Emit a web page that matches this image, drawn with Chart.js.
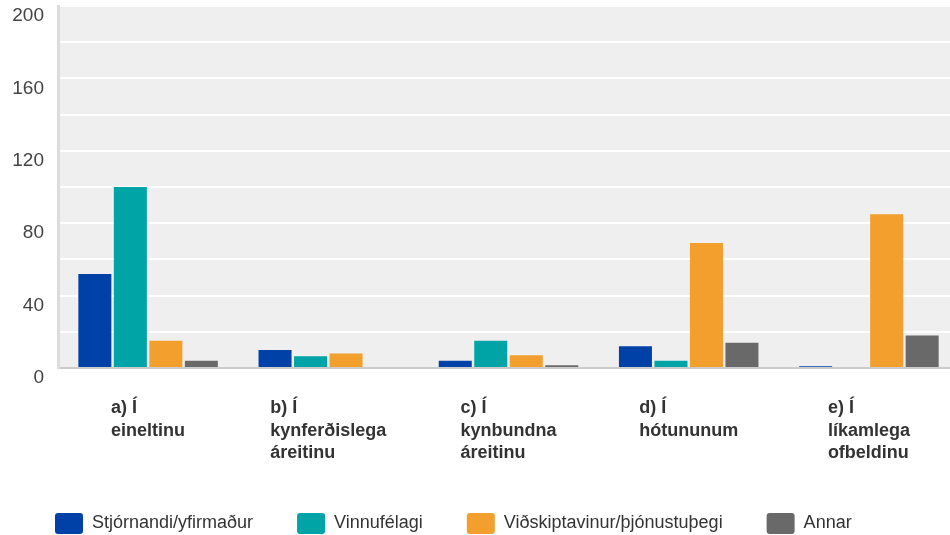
<!DOCTYPE html>
<html>
<head>
<meta charset="utf-8">
<script src="https://cdn.jsdelivr.net/npm/chart.js@4/dist/chart.umd.min.js"></script>
<style>
  html, body { margin: 0; padding: 0; background: #fff; overflow: hidden; }
  #wrap { width: 970px; height: 544px; }
</style>
</head>
<body>
<div id="wrap"><canvas id="chart"></canvas></div>
<script>
const categories = [
  ["a) Í", "eineltinu"],
  ["b) Í", "kynferðislega", "áreitinu"],
  ["c) Í", "kynbundna", "áreitinu"],
  ["d) Í", "hótununum"],
  ["e) Í", "líkamlega", "ofbeldinu"],
];
const seriesNames = ["Stjórnandi/yfirmaður", "Vinnufélagi", "Viðskiptavinur/þjónustuþegi", "Annar"];
const stjornandi = [52, 10, 4, 12, 1];
const vinnufelagi = [100, 6.5, 15, 4, 0];
const vidskiptavinur = [15, 8, 7, 69, 85];
const annar = [4, 0, 1.5, 14, 18];
const yTicks = [0, 40, 80, 120, 160, 200];

const colors = ["#0041a8", "#00a3a6", "#f29f2d", "#696969"];
const seriesValues = [stjornandi, vinnufelagi, vidskiptavinur, annar];

// grey plot background
const plotBg = {
  id: "plotBg",
  beforeDraw(chart) {
    const { ctx, chartArea: a } = chart;
    ctx.save();
    ctx.fillStyle = "#efefef";
    ctx.fillRect(a.left, a.top, a.right - a.left, a.bottom - a.top);
    ctx.restore();
  },
};

// multi-line category labels: block centred, lines left aligned
const catLabels = {
  id: "catLabels",
  afterDraw(chart) {
    const { ctx, chartArea } = chart;
    const x = chart.scales.x;
    ctx.save();
    ctx.font = "bold 18px Arial";
    ctx.fillStyle = "#333";
    ctx.textAlign = "left";
    ctx.textBaseline = "alphabetic";
    categories.forEach((lines, i) => {
      const w = Math.max(...lines.map((l) => ctx.measureText(l).width));
      const left = x.getPixelForValue(i) - w / 2;
      lines.forEach((line, j) => {
        ctx.fillText(line, left, chartArea.bottom + 45 + j * 22.5);
      });
    });
    ctx.restore();
  },
};

new Chart(document.getElementById("chart"), {
  type: "bar",
  data: {
    labels: categories.map((c) => c.join(" ")),
    datasets: seriesNames.map((name, i) => ({
      label: name,
      data: seriesValues[i],
      backgroundColor: colors[i],
      borderWidth: 0,
      categoryPercentage: 0.788,
      barPercentage: 0.93,
    })),
  },
  options: {
    responsive: true,
    maintainAspectRatio: false,
    animation: false,
    layout: { padding: { left: 11, right: 11, top: 6, bottom: 0 } },
    scales: {
      x: {
        grid: { display: false },
        border: { display: true, color: "#cccccc", width: 2 },
        ticks: { display: false },
        afterFit(scale) {
          scale.height = 101;
        },
      },
      y: {
        min: 0,
        max: 200,
        grid: { color: "#ffffff", lineWidth: 2, drawTicks: false },
        border: { display: true, color: "#dcdcdc", width: 3 },
        ticks: {
          stepSize: 20,
          padding: 14,
          labelOffset: 10,
          color: "#444",
          font: { family: "Arial", size: 19 },
          callback: (v) => (yTicks.includes(v) ? v : ""),
        },
        afterFit(scale) {
          scale.width = 47;
          scale.paddingTop = 0;
          scale.paddingBottom = 0;
        },
      },
    },
    plugins: {
      legend: {
        position: "bottom",
        align: "start",
        labels: {
          boxWidth: 28,
          boxHeight: 21,
          padding: 44,
          color: "#333",
          font: { family: "Arial", size: 18 },
          useBorderRadius: true,
          borderRadius: 3,
        },
      },
      tooltip: { enabled: false },
    },
  },
  plugins: [plotBg, catLabels],
});
</script>
</body>
</html>
